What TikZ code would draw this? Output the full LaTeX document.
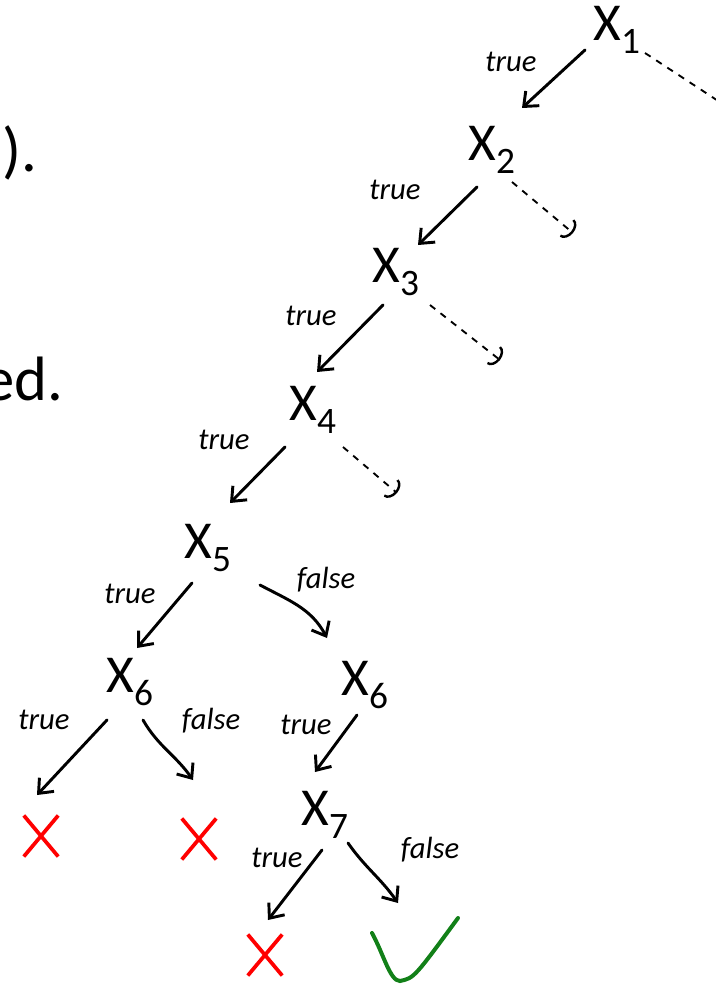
\documentclass[tikz,border=0pt]{standalone}
\usepackage{fontspec}
\setmainfont{Carlito}
\usetikzlibrary{arrows.meta,shapes.misc,calc}
\definecolor{okgreen}{RGB}{18,128,24}

\begin{document}
\begin{tikzpicture}[
  x=0.75pt, y=-0.75pt,
  var/.style={inner sep=1pt, font=\fontsize{40}{40}\selectfont},
  lbl/.style={inner sep=0pt, font=\itshape\fontsize{23}{23}\selectfont},
  slide/.style={inner sep=0pt, anchor=base west, font=\fontsize{47}{47}\selectfont},
  no/.style={cross out, draw=red, line width=2.8pt, minimum width=23pt, minimum height=28pt},
  yesbox/.style={minimum width=66pt, minimum height=48pt, inner sep=0pt},
  arr/.style={-{Straight Barb[length=9pt, width=15pt, line width=2.2pt]}, line width=2.2pt, line cap=round},
  rest/.style={dashed, dash pattern=on 5pt off 5pt, line width=1.4pt,
               -{Arc Barb[length=6pt, width=17pt, line width=1.8pt]}},
  ok/.style={draw=okgreen, line width=3pt, line cap=round},
]
  \useasboundingbox (0,0) rectangle (715,984);

  % cut-off slide text
  \node[slide] (p1) at (2,172) {).};
  \node[slide] (p2) at (-17,400) {ed.};

  % decision chain
  \node[var] (x1) at (617,30) {X\textsubscript{1}};
  \node[var] (x2) at (492,150) {X\textsubscript{2}};
  \node[var] (x3) at (396,272) {X\textsubscript{3}};
  \node[var] (x4) at (313,410) {X\textsubscript{4}};
  \node[var] (x5) at (208,548) {X\textsubscript{5}};
  \node[var] (x6a) at (130,682) {X\textsubscript{6}};
  \node[var] (x6b) at (365,685) {X\textsubscript{6}};
  \node[var] (x7) at (325,815) {X\textsubscript{7}};

  % leaves
  \node[no] (no1) at (41,836) {};
  \node[no] (no2) at (199,839) {};
  \node[no] (no3) at (265,955) {};
  \node[yesbox] (yes) at (414,950) {};

  % skipped branches
  \coordinate (d1) at (735,112);
  \coordinate (d2) at (573,233);
  \coordinate (d3) at (500,360);
  \coordinate (d4) at (397,493);

  \draw[arr] ([shift={(-32,20)}]x1.center) -- ([shift={(30,-42)}]x2.center);
  \draw[rest] ([shift={(28,23)}]x1.center) -- (d1);
  \draw[arr] ([shift={(-15,37)}]x2.center) -- ([shift={(22,-27)}]x3.center);
  \draw[rest] ([shift={(20,32)}]x2.center) -- (d2);
  \draw[arr] ([shift={(-13,33)}]x3.center) -- ([shift={(4,-38)}]x4.center);
  \draw[rest] ([shift={(34,33)}]x3.center) -- (d3);
  \draw[arr] ([shift={(-28,37)}]x4.center) -- ([shift={(22,-45)}]x5.center);
  \draw[rest] ([shift={(30,37)}]x4.center) -- (d4);
  \draw[arr] ([shift={(-16,35)}]x5.center) -- ([shift={(7,-34)}]x6a.center);
  \draw[arr] ([shift={(52,37)}]x5.center) to[out=-28, in=118] ([shift={(-38,-47)}]x6b.center);
  \draw[arr] ([shift={(-23,38)}]x6a.center) -- ([shift={(-4,-41)}]no1.center);
  \draw[arr] ([shift={(13,38)}]x6a.center) to[out=-60, in=125] ([shift={(-6,-59)}]no2.center);
  \draw[arr] ([shift={(-8,30)}]x6b.center) -- ([shift={(-10,-43)}]x7.center);
  \draw[arr] ([shift={(-3,35)}]x7.center) -- ([shift={(3,-35)}]no3.center);
  \draw[arr] ([shift={(23,28)}]x7.center) to[out=-55, in=125] ([shift={(-16,-47)}]yes.center);

  % check mark
  \draw[ok] ($(yes)+(-42,-17)$) .. controls ($(yes)+(-30,5)$) and ($(yes)+(-24,31)$) .. ($(yes)+(-14,31)$)
            .. controls ($(yes)+(0,28)$) .. ($(yes)+(44,-32)$);

  % edge labels
  \node[lbl] (t1) at (511,62) {true};
  \node[lbl] (t2) at (395,190) {true};
  \node[lbl] (t3) at (311,316) {true};
  \node[lbl] (t4) at (224,440) {true};
  \node[lbl] (t5) at (130,594) {true};
  \node[lbl] (f5) at (326,580) {false};
  \node[lbl] (t6a) at (44,720) {true};
  \node[lbl] (f6a) at (211,721) {false};
  \node[lbl] (t6b) at (306,725) {true};
  \node[lbl] (t7) at (277,858) {true};
  \node[lbl] (f7) at (430,850) {false};
\end{tikzpicture}
\end{document}
